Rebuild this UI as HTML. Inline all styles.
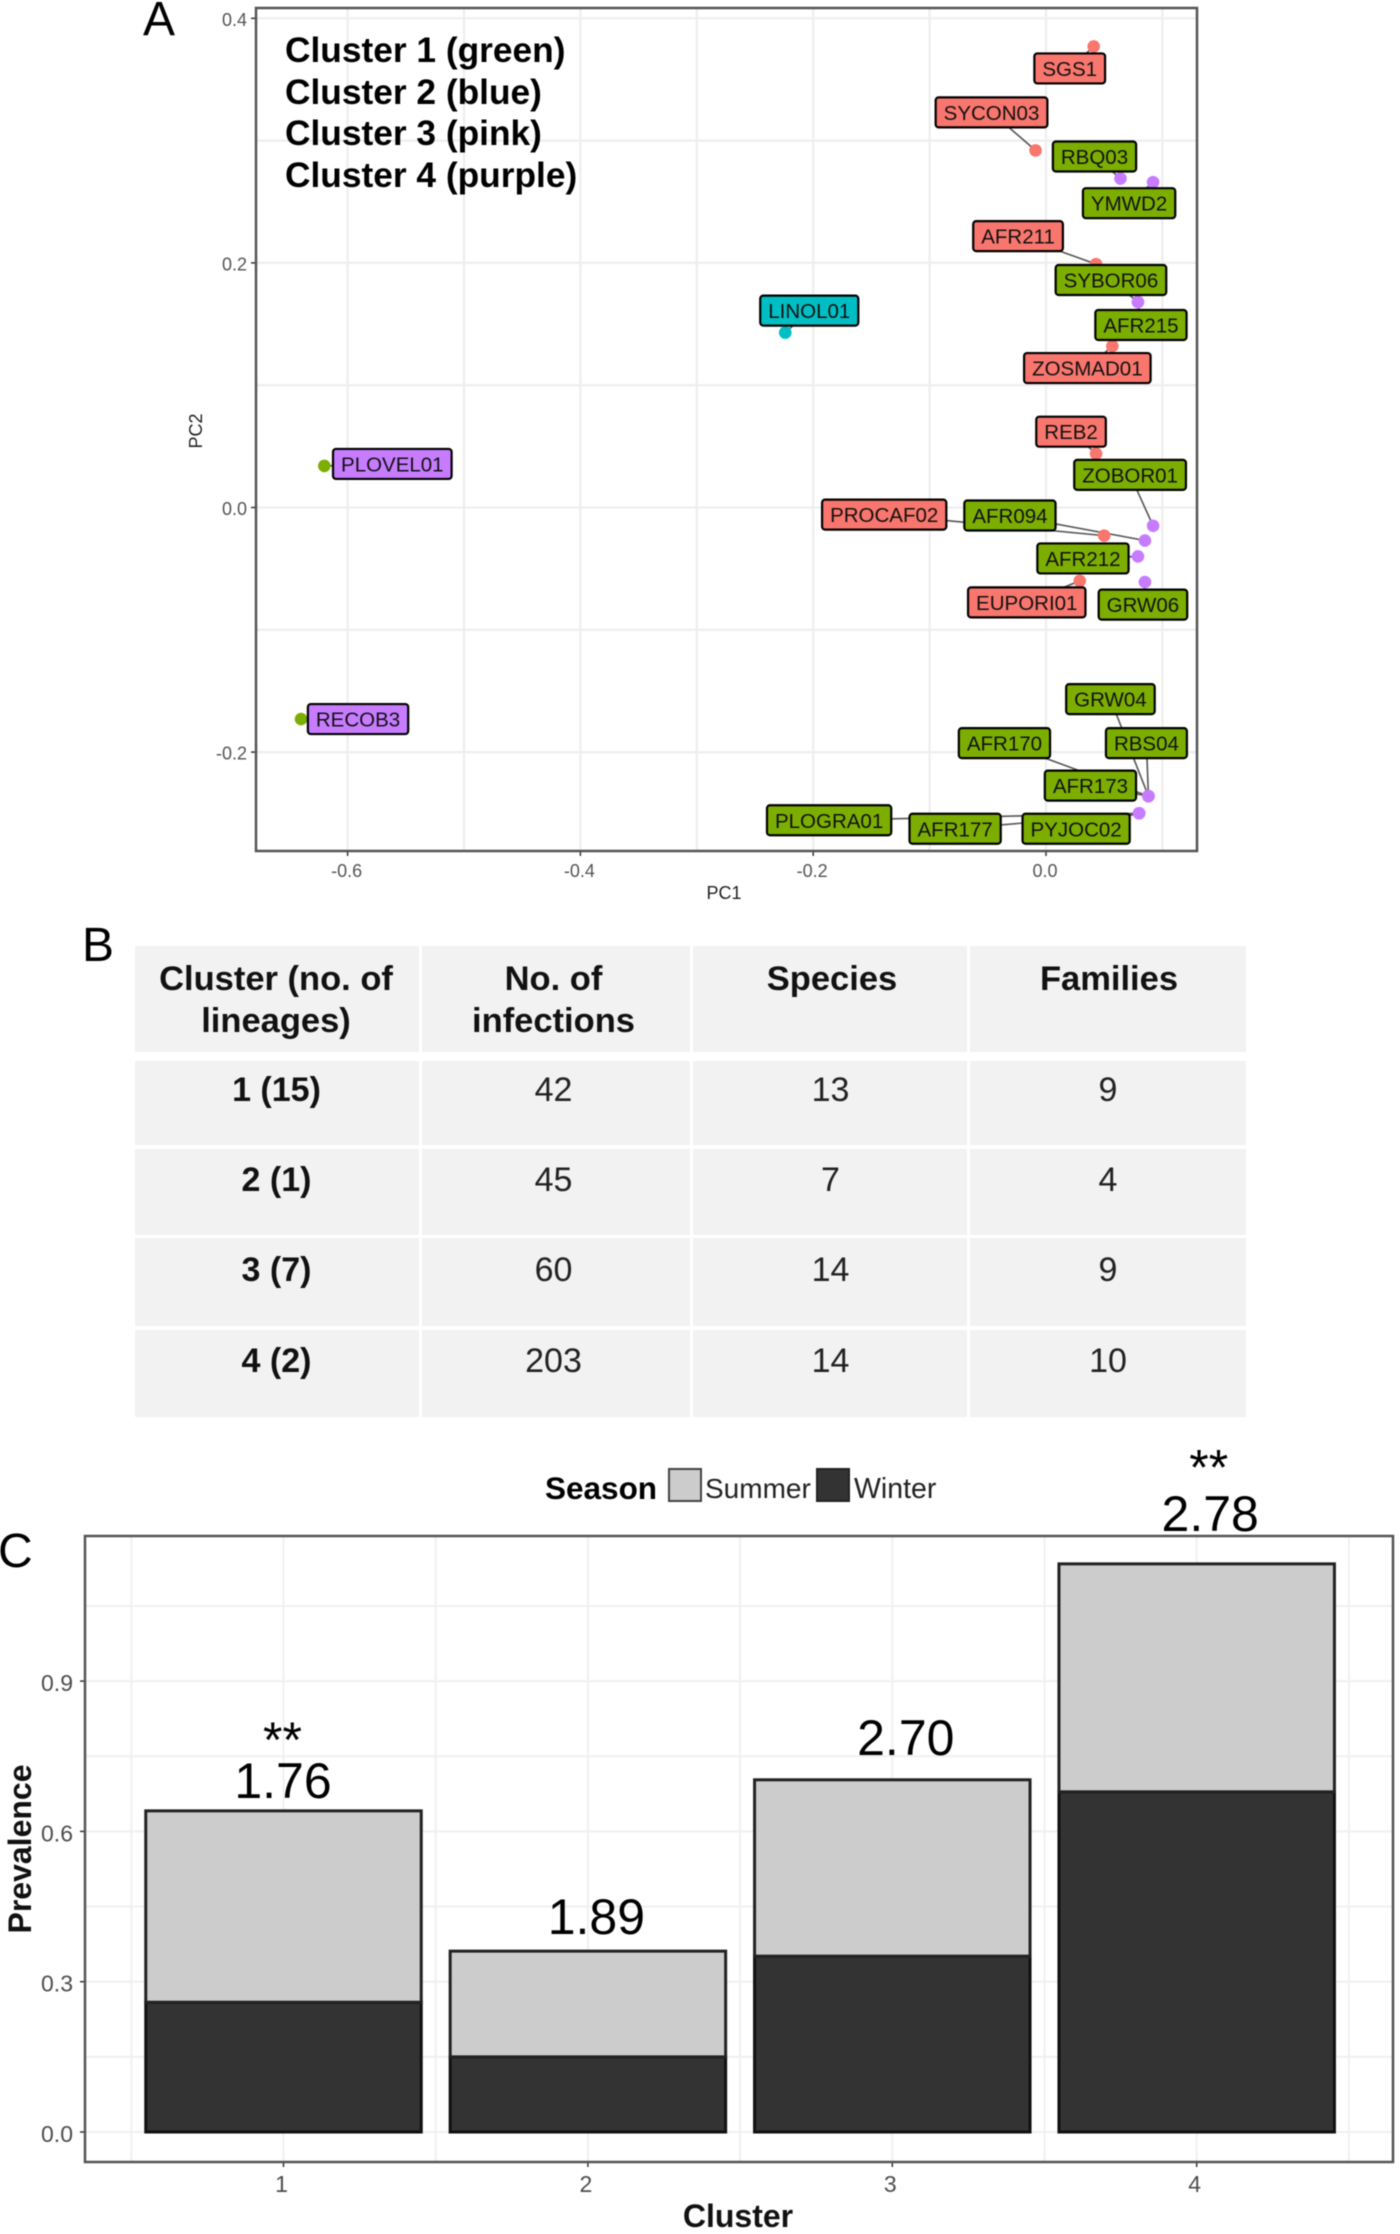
<!DOCTYPE html>
<html lang="en">
<head>
<meta charset="utf-8">
<title>Lineage clusters, table and prevalence</title>
<style>
html,body{margin:0;padding:0;background:#fff;width:1400px;height:2234px;overflow:hidden}
svg{display:block;font-family:"Liberation Sans",sans-serif;filter:blur(.45px)}
.panel-letter{font-size:48px;fill:#000}
.legend-line{font-size:35.3px;font-weight:bold;fill:#000}
.th{font-size:34.5px;font-weight:bold;text-anchor:middle;fill:#111}
.tb{font-size:34px;font-weight:bold;text-anchor:middle;fill:#111}
.td{font-size:34px;text-anchor:middle;fill:#222}
.cell{fill:#f2f2f2}
</style>
</head>
<body>
<svg id="fig" xmlns="http://www.w3.org/2000/svg" width="1400" height="2234" viewBox="0 0 1400 2234">
  <rect width="1400" height="2234" fill="#fff"/>

  <text class="panel-letter" x="143" y="35">A</text>
  <g id="pca"></g>
  <g>
    <text class="legend-line" x="285" y="62">Cluster 1 (green)</text>
    <text class="legend-line" x="285" y="104">Cluster 2 (blue)</text>
    <text class="legend-line" x="285" y="145">Cluster 3 (pink)</text>
    <text class="legend-line" x="285" y="187">Cluster 4 (purple)</text>
  </g>

  <text class="panel-letter" x="82" y="961">B</text>
  <g>
    <g>
      <rect class="cell" x="135" y="946" width="284" height="106"/><rect class="cell" x="422" y="946" width="268" height="106"/><rect class="cell" x="693" y="946" width="274" height="106"/><rect class="cell" x="970" y="946" width="276" height="106"/>
      <rect class="cell" x="135" y="1061" width="284" height="84"/><rect class="cell" x="422" y="1061" width="268" height="84"/><rect class="cell" x="693" y="1061" width="274" height="84"/><rect class="cell" x="970" y="1061" width="276" height="84"/>
      <rect class="cell" x="135" y="1149" width="284" height="86"/><rect class="cell" x="422" y="1149" width="268" height="86"/><rect class="cell" x="693" y="1149" width="274" height="86"/><rect class="cell" x="970" y="1149" width="276" height="86"/>
      <rect class="cell" x="135" y="1238" width="284" height="88"/><rect class="cell" x="422" y="1238" width="268" height="88"/><rect class="cell" x="693" y="1238" width="274" height="88"/><rect class="cell" x="970" y="1238" width="276" height="88"/>
      <rect class="cell" x="135" y="1330" width="284" height="87"/><rect class="cell" x="422" y="1330" width="268" height="87"/><rect class="cell" x="693" y="1330" width="274" height="87"/><rect class="cell" x="970" y="1330" width="276" height="87"/>
    </g>
    <g>
      <text class="th" x="276" y="990">Cluster (no. of</text>
      <text class="th" x="276" y="1032">lineages)</text>
      <text class="th" x="553.5" y="990">No. of</text>
      <text class="th" x="553.5" y="1032">infections</text>
      <text class="th" x="832" y="990">Species</text>
      <text class="th" x="1109" y="990">Families</text>
    </g>
    <g>
      <text class="tb" x="276.5" y="1101">1 (15)</text><text class="td" x="553.5" y="1101">42</text><text class="td" x="830.5" y="1101">13</text><text class="td" x="1108" y="1101">9</text>
    </g>
    <g>
      <text class="tb" x="276.5" y="1191">2 (1)</text><text class="td" x="553.5" y="1191">45</text><text class="td" x="830.5" y="1191">7</text><text class="td" x="1108" y="1191">4</text>
    </g>
    <g>
      <text class="tb" x="276.5" y="1281">3 (7)</text><text class="td" x="553.5" y="1281">60</text><text class="td" x="830.5" y="1281">14</text><text class="td" x="1108" y="1281">9</text>
    </g>
    <g>
      <text class="tb" x="276.5" y="1372">4 (2)</text><text class="td" x="553.5" y="1372">203</text><text class="td" x="830.5" y="1372">14</text><text class="td" x="1108" y="1372">10</text>
    </g>
  </g>

  <text class="panel-letter" x="-2" y="1567">C</text>
  <g id="bars"></g>
  <g>
    <text x="545" y="1499" font-size="31.5" font-weight="bold" fill="#000">Season</text>
    <rect x="669" y="1469" width="32" height="32" fill="#cccccc" stroke="#444" stroke-width="2"/>
    <text x="705" y="1498" font-size="28" fill="#222">Summer</text>
    <rect x="817" y="1469" width="32" height="32" fill="#333333" stroke="#222" stroke-width="2"/>
    <text x="854" y="1498" font-size="28.5" fill="#222">Winter</text>
  </g>
</svg>

<script>
// ---------- Panel A data ----------
const lineages = ['SGS1','SYCON03','RBQ03','YMWD2','AFR211','SYBOR06','LINOL01','AFR215','ZOSMAD01','REB2','PLOVEL01','ZOBOR01','PROCAF02','AFR094','AFR212','EUPORI01','GRW06','RECOB3','GRW04','AFR170','RBS04','AFR173','PLOGRA01','AFR177','PYJOC02'];
const pc1Values = [0.041,-0.009,0.064,0.092,0.043,0.079,-0.224,0.079,0.057,0.043,-0.620,0.092,0.050,0.085,0.079,0.029,0.085,-0.640,0.088,0.088,0.088,0.088,0.080,0.080,0.080];
const pc2Values = [0.377,0.292,0.269,0.266,0.199,0.168,0.143,0.168,0.132,0.044,0.034,-0.015,-0.023,-0.027,-0.040,-0.060,-0.061,-0.173,-0.236,-0.236,-0.236,-0.236,-0.250,-0.250,-0.250];
const lineageClusters = [3,3,1,1,3,1,2,1,3,3,4,1,3,1,1,3,1,4,1,1,1,1,1,1,1];
const pcaXTicks = [-0.6,-0.4,-0.2,0.0];
const pcaYTicks = [0.4,0.2,0.0,-0.2];
const pcaXMinor = [-0.5,-0.3,-0.1,0.1];
const pcaYMinor = [0.3,0.1,-0.1];

// ---------- Panel C data ----------
const barClusters = [1,2,3,4];
const winterValues = [0.259,0.150,0.351,0.679];
const summerValues = [0.382,0.211,0.352,0.455];
const ratioLabels = ['1.76','1.89','2.70','2.78'];
const significance = ['**','','','**'];
const prevTicks = [0.0,0.3,0.6,0.9];
const prevMinor = [0.15,0.45,0.75,1.05];
const clusterMinor = [0.5,1.5,2.5,3.5,4.5];

const NS = 'http://www.w3.org/2000/svg';
function mk(parent, tag, attrs, txt) {
  const e = document.createElementNS(NS, tag);
  for (const k in attrs) e.setAttribute(k, attrs[k]);
  if (txt !== undefined) e.textContent = txt;
  parent.appendChild(e);
  return e;
}

// ---------- Panel A ----------
const pca = document.getElementById('pca');
const ax = v => 1046 + v * 1164;
const ay = v => 507.5 - v * 1223;
const aFrame = {l:256, r:1197, t:8, b:851};

const labelFill = {1:'#7CAE00', 2:'#00BFC4', 3:'#F8766D', 4:'#C77CFF'};
const pointFill = {1:'#C77CFF', 2:'#00BFC4', 3:'#F8766D', 4:'#7CAE00'};
// label placement relative to each point (repelled layout, screen pixels)
const repelLayout = {
  SGS1:[-24,22], SYCON03:[-44,-38], RBQ03:[-26,-22], YMWD2:[-24,21], AFR211:[-78,-28],
  SYBOR06:[-27,-22], LINOL01:[24,-22], AFR215:[3,23], ZOSMAD01:[-25,22], REB2:[-25,-22],
  PLOVEL01:[68,-2], ZOBOR01:[-23,-51], PROCAF02:[-220,-21], AFR094:[-135,-25], AFR212:[-55,2],
  EUPORI01:[-53,21.5], GRW06:[-2,22.5], RECOB3:[57,0], GRW04:[-38,-97], AFR170:[-144,-53],
  RBS04:[-2,-53], AFR173:[-58,-10.5], PLOGRA01:[-310,7], AFR177:[-184,15.5], PYJOC02:[-63,15.5]
};

pcaYMinor.concat(pcaYTicks).forEach(v => {
  const g = mk(pca, 'line', {x1:aFrame.l, x2:aFrame.r, y1:ay(v), y2:ay(v), stroke:'#eeeeee', 'stroke-width':2.2});
  
  
});
pcaXMinor.concat(pcaXTicks).forEach(v => {
  const g = mk(pca, 'line', {x1:ax(v), x2:ax(v), y1:aFrame.t, y2:aFrame.b, stroke:'#eeeeee', 'stroke-width':2.2});
  
  
});
pcaXTicks.forEach(v => {
  const t = mk(pca, 'line', {x1:ax(v), x2:ax(v), y1:aFrame.b, y2:aFrame.b + 5, stroke:'#333', 'stroke-width':1.5});
  
  
  const l = mk(pca, 'text', {x:ax(v) - 1, y:877, 'text-anchor':'middle', 'font-size':18, fill:'#555'}, v.toFixed(1));
  
  
});
pcaYTicks.forEach(v => {
  const t = mk(pca, 'line', {x1:aFrame.l - 5, x2:aFrame.l, y1:ay(v), y2:ay(v), stroke:'#333', 'stroke-width':1.5});
  
  
  const l = mk(pca, 'text', {x:247, y:ay(v) + 7.5, 'text-anchor':'end', 'font-size':18, fill:'#555'}, v.toFixed(1));
  
  
});
const aFrameRect = mk(pca, 'rect', {x:aFrame.l, y:aFrame.t, width:aFrame.r - aFrame.l, height:aFrame.b - aFrame.t, fill:'none', stroke:'#555', 'stroke-width':2.5});


const aXTitle = mk(pca, 'text', {x:724, y:899, 'text-anchor':'middle', 'font-size':18, fill:'#222'}, 'PC1');


const aYTitle = mk(pca, 'text', {transform:'translate(202,431) rotate(-90)', 'text-anchor':'middle', 'font-size':18, fill:'#222'}, 'PC2');



// connectors first, then points, then labels on top
lineages.forEach((name, i) => {
  const px = ax(pc1Values[i]), py = ay(pc2Values[i]);
  const off = repelLayout[name];
  const c = mk(pca, 'line', {x1:px + off[0], y1:py + off[1], x2:px, y2:py, stroke:'#555', 'stroke-width':1.6});
  
  
});
lineages.forEach((name, i) => {
  const p = mk(pca, 'circle', {cx:ax(pc1Values[i]), cy:ay(pc2Values[i]), r:6.3, fill:pointFill[lineageClusters[i]]});
  
  
});
lineages.forEach((name, i) => {
  const px = ax(pc1Values[i]), py = ay(pc2Values[i]);
  const off = repelLayout[name];
  const cx = px + off[0], cy = py + off[1];
  const box = mk(pca, 'rect', {y:cy - 15, height:30, rx:3, ry:3, fill:labelFill[lineageClusters[i]], stroke:'#000', 'stroke-width':2.2});
  
  
  const t = mk(pca, 'text', {x:cx, y:cy + 7.5, 'text-anchor':'middle', 'font-size':20.5, fill:'#111'}, name);
  
  
  const w = t.getComputedTextLength() + 16;
  box.setAttribute('x', cx - w / 2);
  box.setAttribute('width', w);
});

// ---------- Panel C ----------
const bars = document.getElementById('bars');
const bx = v => 283.5 + (v - 1) * 304.4;
const by = v => 2132 - v * 501;
const bFrame = {l:85, r:1393, t:1536, b:2162};
const barWidth = 0.905;
// annotation placement above each bar, screen pixels
const ratioShiftX = [0, 9, 14, 14];
const ratioShiftY = [13, 17, 25, 33];
const starShiftX = [-1, 0, 0, 12];
const starShiftY = [41, 0, 0, 46.5];

prevMinor.concat(prevTicks).forEach(v => {
  const g = mk(bars, 'line', {x1:bFrame.l, x2:bFrame.r, y1:by(v), y2:by(v), stroke:'#f0f0f0', 'stroke-width':2});
  
  
});
clusterMinor.concat(barClusters).forEach(v => {
  const g = mk(bars, 'line', {x1:bx(v), x2:bx(v), y1:bFrame.t, y2:bFrame.b, stroke:'#f0f0f0', 'stroke-width':2});
  
  
});
prevTicks.forEach(v => {
  const t = mk(bars, 'line', {x1:bFrame.l - 5, x2:bFrame.l, y1:by(v), y2:by(v), stroke:'#333', 'stroke-width':1.5});
  
  
  const l = mk(bars, 'text', {x:73, y:by(v) + 10, 'text-anchor':'end', 'font-size':23, fill:'#4d4d4d'}, v.toFixed(1));
  
  
});
barClusters.forEach((c, i) => {
  const x0 = bx(c - barWidth / 2), x1 = bx(c + barWidth / 2);
  const w = mk(bars, 'rect', {x:x0, width:x1 - x0, y:by(winterValues[i]), height:by(0) - by(winterValues[i]), fill:'#333333', stroke:'#111', 'stroke-width':3});
  
  
  const top = winterValues[i] + summerValues[i];
  const s = mk(bars, 'rect', {x:x0, width:x1 - x0, y:by(top), height:by(winterValues[i]) - by(top), fill:'#cccccc', stroke:'#222', 'stroke-width':3});
  
  
  const tick = mk(bars, 'line', {x1:bx(c), x2:bx(c), y1:bFrame.b, y2:bFrame.b + 5, stroke:'#333', 'stroke-width':1.5});
  
  
  const tl = mk(bars, 'text', {x:bx(c) - 2, y:2192, 'text-anchor':'middle', 'font-size':23, fill:'#4d4d4d'}, String(c));
  
  
  const ry = by(top) - ratioShiftY[i];
  const r = mk(bars, 'text', {x:bx(c) + ratioShiftX[i] - 0.5, y:ry, 'text-anchor':'middle', 'font-size':50, fill:'#000'}, ratioLabels[i]);
  
  
  if (significance[i]) {
    const st = mk(bars, 'text', {x:bx(c) + starShiftX[i], y:ry - starShiftY[i], 'text-anchor':'middle', 'font-size':50, fill:'#000'}, significance[i]);
    
    
  }
});
const bFrameRect = mk(bars, 'rect', {x:bFrame.l, y:bFrame.t, width:bFrame.r - bFrame.l, height:bFrame.b - bFrame.t, fill:'none', stroke:'#555', 'stroke-width':2.5});


const bXTitle = mk(bars, 'text', {x:738, y:2227, 'text-anchor':'middle', 'font-size':32, 'font-weight':'bold', fill:'#111'}, 'Cluster');


const bYTitle = mk(bars, 'text', {transform:'translate(31,1849) rotate(-90)', 'text-anchor':'middle', 'font-size':32, 'font-weight':'bold', fill:'#111'}, 'Prevalence');


</script>
</body>
</html>
